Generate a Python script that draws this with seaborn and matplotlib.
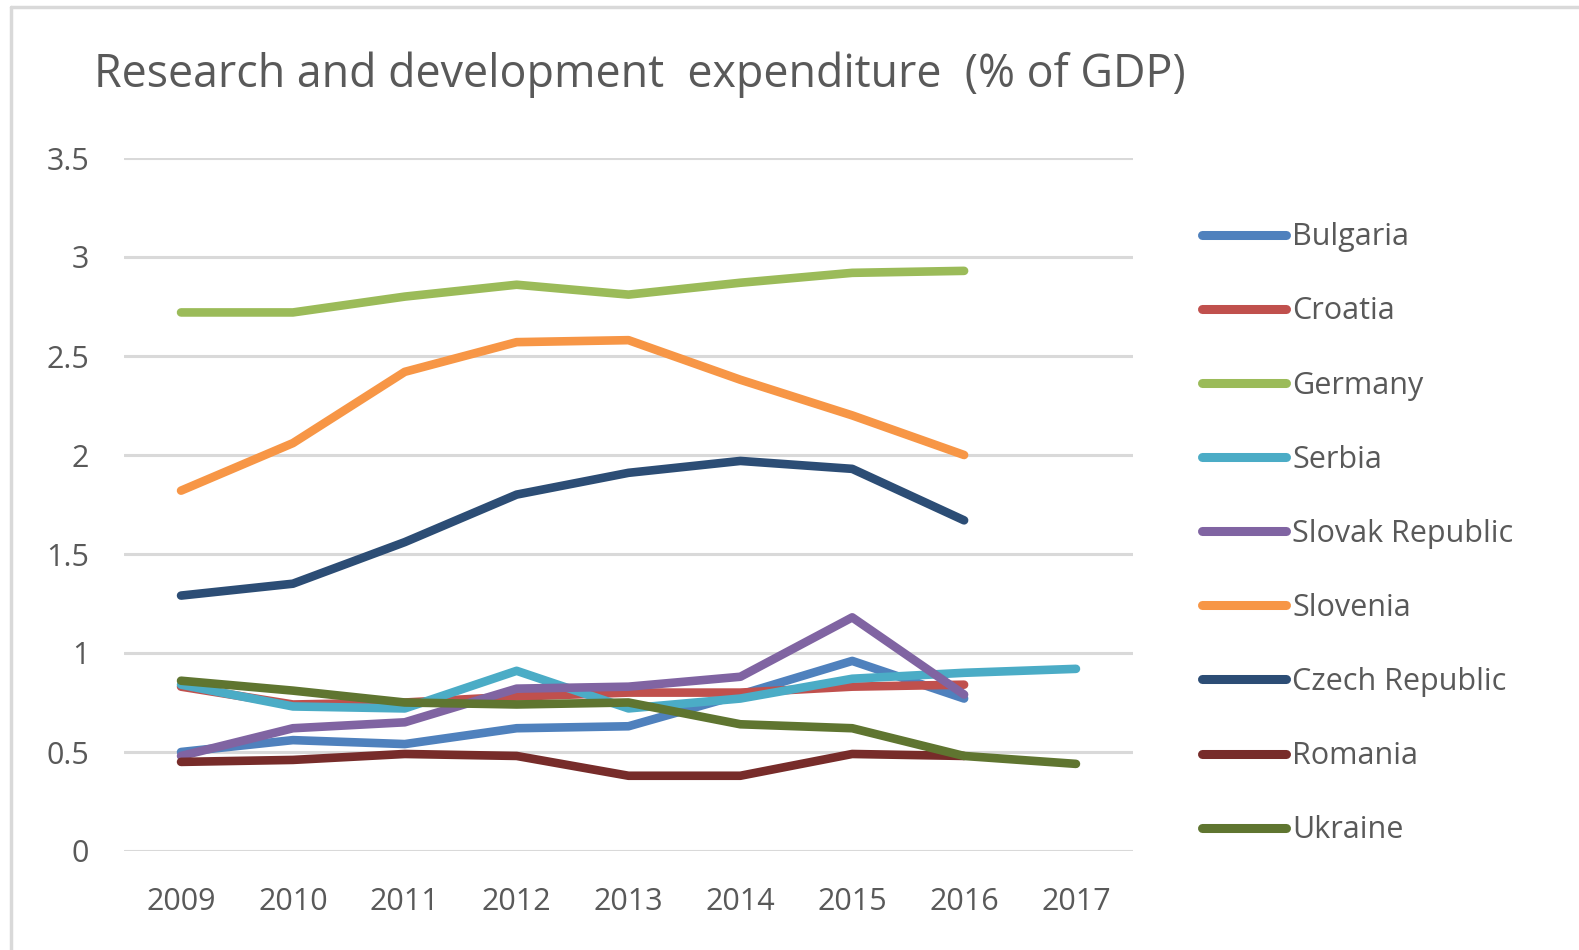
import matplotlib
matplotlib.use("Agg")
import matplotlib.pyplot as plt
from matplotlib.lines import Line2D
import seaborn as sns
import pandas as pd

years = [2009, 2010, 2011, 2012, 2013, 2014, 2015, 2016, 2017]
countries = ["Bulgaria", "Croatia", "Germany", "Serbia", "Slovak Republic",
             "Slovenia", "Czech Republic", "Romania", "Ukraine"]

bulgaria = [0.50, 0.56, 0.54, 0.62, 0.63, 0.79, 0.96, 0.77, None]
croatia = [0.83, 0.74, 0.75, 0.78, 0.80, 0.80, 0.83, 0.84, None]
germany = [2.72, 2.72, 2.80, 2.86, 2.81, 2.87, 2.92, 2.93, None]
serbia = [0.84, 0.73, 0.72, 0.91, 0.72, 0.77, 0.87, 0.90, 0.92]
slovak = [0.48, 0.62, 0.65, 0.82, 0.83, 0.88, 1.18, 0.79, None]
slovenia = [1.82, 2.06, 2.42, 2.57, 2.58, 2.38, 2.20, 2.00, None]
czech = [1.29, 1.35, 1.56, 1.80, 1.91, 1.97, 1.93, 1.67, None]
romania = [0.45, 0.46, 0.49, 0.48, 0.38, 0.38, 0.49, 0.48, None]
ukraine = [0.86, 0.81, 0.75, 0.74, 0.75, 0.64, 0.62, 0.48, 0.44]

series = [bulgaria, croatia, germany, serbia, slovak, slovenia, czech, romania, ukraine]
colors = ["#4F81BD", "#C0504D", "#9BBB59", "#4BACC6", "#8064A2",
          "#F79646", "#2C4D75", "#772C2A", "#5F7530"]

rows = []
for name, vals in zip(countries, series):
    for y, v in zip(years, vals):
        if v is not None:
            rows.append({"Year": y, "Country": name, "Value": v})
df = pd.DataFrame(rows)

sns.set_theme(style="white")
plt.rcParams["font.family"] = ["Open Sans", "DejaVu Sans"]
txt = "#595959"

fig = plt.figure(figsize=(15.79, 9.5), dpi=100)
ax = fig.add_axes([124 / 1579, 1 - 851 / 950, (1133 - 124) / 1579, (851 - 158) / 950])

ax.set_ylim(0, 3.5)
ax.set_xlim(2008.49, 2017.51)
ax.set_yticks([0, 0.5, 1, 1.5, 2, 2.5, 3, 3.5])
ax.set_yticklabels(["0", "0.5", "1", "1.5", "2", "2.5", "3", "3.5"])
ax.set_xticks(years)
ax.set_xticklabels([str(y) for y in years])
for gy in [0, 0.5, 1, 1.5, 2, 2.5, 3, 3.5]:
    ax.axhline(gy, color="#D9D9D9", lw=2.2, zorder=0)

sns.lineplot(data=df, x="Year", y="Value", hue="Country", hue_order=countries,
             palette=colors, linewidth=6.2, ax=ax, legend=False, sort=True)
for ln in ax.get_lines():
    ln.set_solid_capstyle("round")
    ln.set_solid_joinstyle("round")

for s in ax.spines.values():
    s.set_visible(False)
ax.set_xlabel("")
ax.set_ylabel("")
ax.tick_params(axis="both", length=0, labelsize=22, colors=txt)
ax.tick_params(axis="y", pad=25)
ax.tick_params(axis="x", pad=26)

handles = [Line2D([0], [0], color=c, lw=6.5) for c in colors]
fig.legend(handles, countries, loc="upper left", bbox_to_anchor=(1190 / 1579, 1 - 210 / 950),
           frameon=False, fontsize=22, labelcolor=txt, handlelength=2.75,
           handletextpad=0.2, labelspacing=1.445, borderaxespad=0)

fig.text(94 / 1579, 1 - 75 / 950, "Research and development  expenditure  (% of GDP)",
         fontsize=32.2, color=txt, va="center", ha="left")

fig.add_artist(Line2D([11 / 1579, 11 / 1579], [0, 1 - 7 / 950], color="#D9D9D9", lw=2.5,
                      transform=fig.transFigure))
fig.add_artist(Line2D([11 / 1579, 1], [1 - 7 / 950, 1 - 7 / 950], color="#D9D9D9", lw=2.5,
                      transform=fig.transFigure))

fig.savefig("out.png", dpi=100, facecolor="white")
